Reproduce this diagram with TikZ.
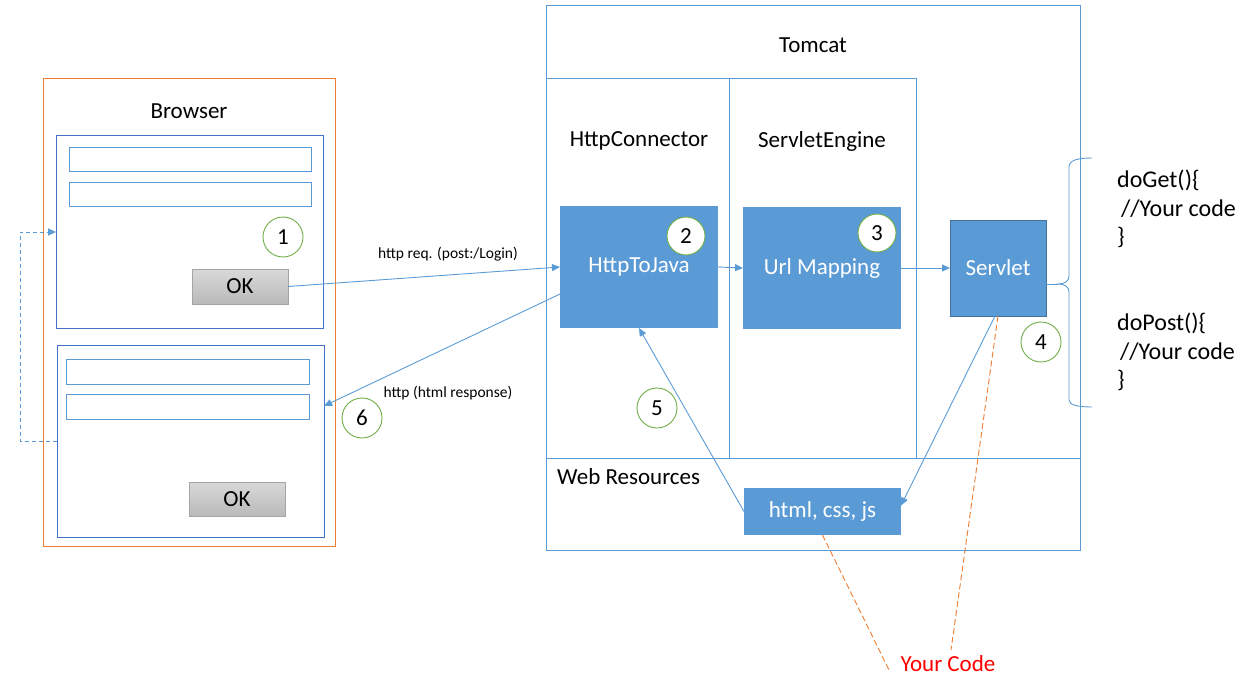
\documentclass[tikz,border=0pt]{standalone}
\usepackage{fontspec}
\setmainfont{Carlito}
\usetikzlibrary{arrows.meta,calc}
\definecolor{mblue}{HTML}{5B9BD5}
\definecolor{dblue}{HTML}{4472C4}
\definecolor{sblue}{HTML}{41719C}
\definecolor{morange}{HTML}{ED7D31}
\definecolor{mgreen}{HTML}{70AD47}
\definecolor{bgray}{HTML}{A5A5A5}
\definecolor{ytop}{HTML}{D9D9D9}
\definecolor{ybot}{HTML}{B9B9B9}
\newcommand{\bigfont}{\fontsize{23}{28}\selectfont}
\newcommand{\codefont}{\fontsize{24}{28.5}\selectfont}
\tikzset{
  box/.style={draw, rectangle, inner sep=0pt, outer sep=0pt, line width=1pt},
  frame/.style={box, draw=mblue},
  form/.style={box, draw=dblue, minimum width=267pt, minimum height=192pt},
  field/.style={box, draw=mblue, minimum width=242pt, minimum height=24pt},
  okbtn/.style={box, draw=bgray, top color=ytop, bottom color=ybot, minimum width=96pt, minimum height=35pt, font=\bigfont},
  bluebox/.style={rectangle, fill=mblue, inner sep=0pt, outer sep=0pt, text=white, font=\bigfont},
  num/.style={circle, draw=mgreen, fill=white, line width=0.9pt, inner sep=0pt, minimum size=38pt, font=\bigfont},
  lbl/.style={font=\bigfont, inner sep=0pt},
  small/.style={font=\fontsize{15.5}{18}\selectfont, inner sep=0pt},
  arr/.style={draw=mblue, line width=0.9pt, -{Triangle[length=8pt,width=7pt]}},
  ln/.style={draw=mblue, line width=0.9pt},
  odash/.style={draw=morange, line width=0.9pt, dash pattern=on 6pt off 3pt},
}
\begin{document}
\begin{tikzpicture}[x=1pt,y=-1pt]
\useasboundingbox (0,0) rectangle (1258,682);

% Browser
\node[box, draw=morange, minimum width=292pt, minimum height=467pt] (browser) at (189,312.5) {};
\node[lbl] (browserlbl) at (189,111) {Browser};
\node[form] (form1) at (189.5,232) {};
\node[field] (f1a) at (190,159.5) {};
\node[field] (f1b) at (190,194) {};
\node[okbtn] (ok1) at (240,286.5) {OK};
\node[num, minimum size=40pt] (c1) at (283,237) {1};
\node[form] (form2) at (190.5,441) {};
\node[field, minimum width=243pt, minimum height=25pt] (f2a) at (188,371.5) {};
\node[field, minimum width=243pt, minimum height=25pt] (f2b) at (188,406.5) {};
\node[okbtn, minimum height=34pt] (ok2) at (237,499) {OK};

% Tomcat
\node[frame, minimum width=534pt, minimum height=544pt] (tomcat) at (813,278) {};
\node[lbl] (tomcatlbl) at (813,45) {Tomcat};
\node[frame, minimum width=183pt, minimum height=379pt] (conncol) at (637.5,268.5) {};
\node[frame, minimum width=187pt, minimum height=379pt] (engcol) at (822.5,268.5) {};
\node[frame, minimum width=534pt, minimum height=92pt] (webres) at (813,504) {};
\node[lbl] (connlbl) at (639,141) {HttpConnector};
\node[lbl] (englbl) at (822,141) {ServletEngine};
\node[lbl, anchor=west] (weblbl) at (557,477) {Web Resources};

\node[bluebox, minimum width=158pt, minimum height=122pt] (h2j) at (639,267) {HttpToJava};
\node[bluebox, minimum width=158pt, minimum height=122pt] (url) at (822,268) {Url Mapping};
\node[bluebox, draw=sblue, line width=1pt, minimum width=96pt, minimum height=96pt] (servlet) at (998,268) {Servlet};
\node[bluebox, minimum width=157pt, minimum height=47pt] (html) at (822.5,511.5) {html, css, js};

\node[num] (c2) at (686,236) {2};
\node[num] (c3) at (877,233) {3};
\node[num, minimum size=40pt] (c4) at (1041,342) {4};
\node[num, minimum size=40pt] (c5) at (657,408) {5};
\node[num, minimum size=40pt] (c6) at (362,418) {6};

% code
\node[lbl, font=\codefont, anchor=north west, align=left] (getcode) at (1117,170) {doGet()\{\\\hspace{4pt}//Your code\\\}};
\node[lbl, font=\codefont, anchor=north west, align=left] (postcode) at (1117,313) {doPost()\{\\\hspace{3pt}//Your code\\\}};

% brace
\coordinate (bt) at (1058,284);
\draw[ln] (1092,158) .. controls (1078,158) and (1069,160) .. (1069,167) -- (1069,276)
  .. controls (1069,281) and (1065,284) .. (bt)
  .. controls (1065,284) and (1069,287) .. (1069,292) -- (1069,400)
  .. controls (1069,405) and (1078,407) .. (1092,407);
\draw[ln] ([yshift=-16pt]servlet.east) -- (bt);

% connectors
\draw[arr] (ok1.east) -- (h2j.west);
\node[small] (reqlbl) at (448,254) {http req. (post:/Login)};
\draw[arr] ([yshift=-27pt]h2j.west) -- ([yshift=35pt]form2.east);
\node[small] (resplbl) at (448,393) {http (html response)};
\draw[arr] (h2j.east) -- (url.west);
\draw[arr] (url.east) -- (servlet.west);
\draw[arr] ([xshift=-3pt]servlet.south) -- ([yshift=6pt]html.east);
\draw[arr] (html.west) -- (h2j.south);
\draw[arr, dash pattern=on 4pt off 3pt] (form2.west) -- ++(-37,0) |- (form1.west);

% your code
\node[lbl, text=red] (yc) at (948,664) {Your Code};
\coordinate (yc1) at (890,672);
\coordinate (yc2) at (951,650);
\draw[odash] (html.south) -- (yc1);
\draw[odash] (servlet.south) -- (yc2);
\end{tikzpicture}
\end{document}
